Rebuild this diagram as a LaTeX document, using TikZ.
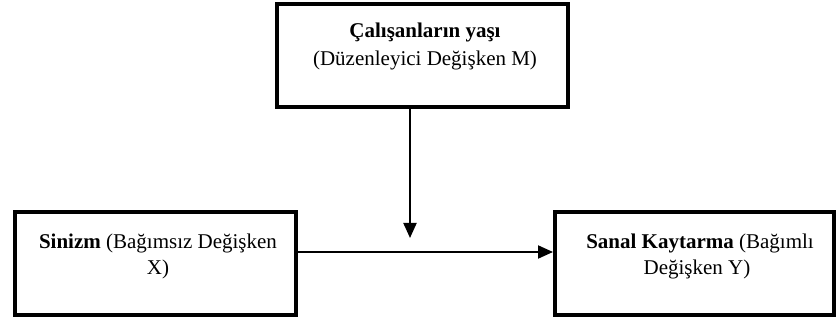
\documentclass[tikz,border=0pt]{standalone}
\usepackage{fontspec}
\setmainfont{Liberation Serif}
\usetikzlibrary{arrows.meta}
\tikzset{
  box/.style={draw=black, line width=4pt, fill=none},
  txt/.style={inner sep=0pt, anchor=base, font=\fontsize{21}{27}\selectfont},
  conn/.style={line width=2pt, -{Triangle[length=15pt,width=13pt]}}
}
\begin{document}
\begin{tikzpicture}[x=1pt,y=-1pt]
\useasboundingbox (0,0) rectangle (840,320);
% boxes
\node[box, minimum width=291pt, minimum height=103pt, inner sep=0pt] (M) at (422.5,55.5) {};
\node[box, minimum width=281pt, minimum height=103pt, inner sep=0pt] (X) at (155.5,263.5) {};
\node[box, minimum width=279pt, minimum height=103pt, inner sep=0pt] (Y) at (694.5,263.5) {};
% texts
\node[txt] (m1) at (425,37.5) {\textbf{Çalışanların yaşı}};
\node[txt] (m2) at (425,65.5) {(Düzenleyici Değişken M)};
\node[txt] (x1) at (158,249) {\textbf{Sinizm} (Bağımsız Değişken};
\node[txt] (x2) at (158,275) {X)};
\node[txt] (y1) at (700,249) {\textbf{Sanal Kaytarma} (Bağımlı};
\node[txt] (y2) at (697,275) {Değişken Y)};
% connectors
\coordinate (tip) at (410,238);
\draw[conn] (M.south -| tip) -- (tip);
\draw[conn] (X.east |- 0,252) -- (Y.west |- 0,252);
\end{tikzpicture}
\end{document}
